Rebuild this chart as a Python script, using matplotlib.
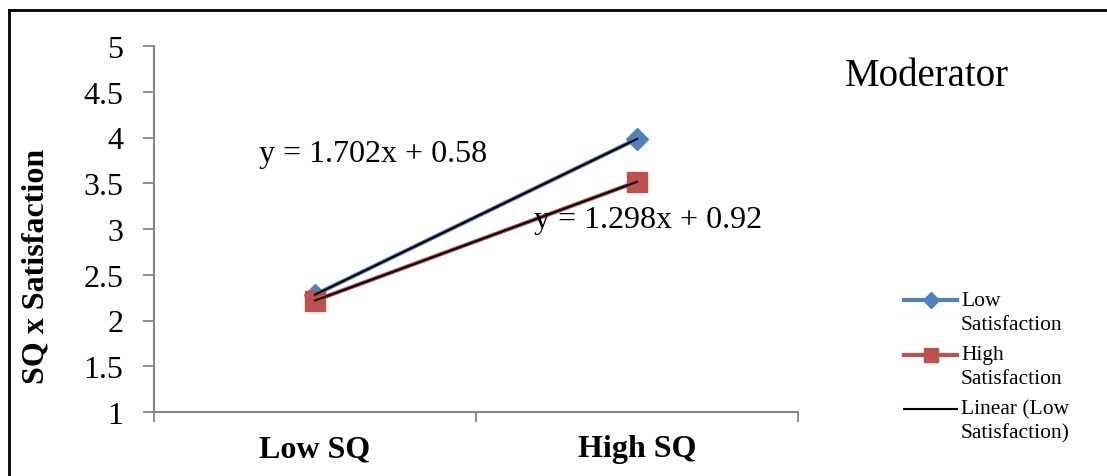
import numpy as np
import matplotlib
matplotlib.use("Agg")
import matplotlib.pyplot as plt
from matplotlib.lines import Line2D

categories = ["Low SQ", "High SQ"]
low_satisfaction = [2.282, 3.984]
high_satisfaction = [2.218, 3.516]
y_ticks = [1, 1.5, 2, 2.5, 3, 3.5, 4, 4.5, 5]
y_tick_labels = ["1", "1.5", "2", "2.5", "3", "3.5", "4", "4.5", "5"]

W, H = 1107, 477
plt.rcParams['font.family'] = ['Liberation Serif', 'DejaVu Serif']
fig = plt.figure(figsize=(W / 100, H / 100), dpi=100)
ax = fig.add_axes([154 / W, 1 - 413 / H, (798 - 154) / W, (413 - 47) / H])

x = np.arange(1, len(categories) + 1)
blue = "#4F81BD"
red = "#C0504D"
ax.plot(x, low_satisfaction, color=blue, lw=3, marker="D", ms=11, mec=blue, zorder=3)
ax.plot(x, high_satisfaction, color=red, lw=3, marker="s", ms=14, mec=red, zorder=3)

fits = []
for ser in (low_satisfaction, high_satisfaction):
    m, b = np.polyfit(x, ser, 1)
    fits.append((m, b))
    ax.plot(x, m * x + b, color="black", lw=1.5, zorder=4)

ax.text(0.825, 3.83, "y = %.3fx + %.2f" % fits[0], fontsize=23, ha="left", va="center")
ax.text(1.68, 3.1, "y = %.3fx + %.2f" % fits[1], fontsize=23, ha="left", va="center")

ax.set_xlim(0.5, 2.5)
ax.set_ylim(1, 5)
ax.set_yticks(y_ticks)
ax.set_yticklabels(y_tick_labels, fontsize=23)
ax.set_xticks([0.5, 1.5, 2.5])
ax.set_xticklabels([])
ax.set_xticks(x, minor=True)
ax.set_xticklabels(categories, minor=True, fontsize=23, fontweight="bold")
ax.tick_params(axis="x", which="minor", length=0, pad=16)
ax.tick_params(axis="x", which="major", length=7, color="#868686", width=1.3, direction="out")
ax.tick_params(axis="y", length=8, color="#868686", width=1.3, direction="out", pad=14)
for s in ("top", "right"):
    ax.spines[s].set_visible(False)
for s in ("left", "bottom"):
    ax.spines[s].set_color("#868686")
    ax.spines[s].set_linewidth(1.5)
ax.set_ylabel("SQ x Satisfaction", fontsize=23, fontweight="bold")
ax.yaxis.set_label_coords(-(154 - 50) / 644, 1 - (266 - 47) / 366)

# Figure frame
fig.add_artist(Line2D([9 / W, 1], [1 - 11 / H, 1 - 11 / H], color="black", lw=2, transform=fig.transFigure))
fig.add_artist(Line2D([9 / W, 9 / W], [0, 1 - 11 / H], color="black", lw=2, transform=fig.transFigure))

fig.text(845 / W, 1 - 77 / H, "Moderator", fontsize=28, ha="left", va="center")

# Legend (manual)
entries = [("Low", "Satisfaction", blue, "D", 8, 3),
           ("High", "Satisfaction", red, "s", 10, 3),
           ("Linear (Low", "Satisfaction)", "black", None, 0, 1.5)]
y0 = 301
for i, (l1, l2, c, mk, ms, lw) in enumerate(entries):
    yy = y0 + i * 54.5
    fig.add_artist(Line2D([904 / W, 957 / W], [1 - yy / H] * 2, color=c, lw=lw,
                          transform=fig.transFigure))
    if mk:
        fig.add_artist(Line2D([930.5 / W], [1 - yy / H], color=c, marker=mk, ms=ms, mec=c,
                              transform=fig.transFigure))
    fig.text(961 / W, 1 - yy / H, l1, fontsize=15.5, ha="left", va="center")
    fig.text(961 / W, 1 - (yy + 24) / H, l2, fontsize=15.5, ha="left", va="center")

fig.savefig("out.png", dpi=100)
